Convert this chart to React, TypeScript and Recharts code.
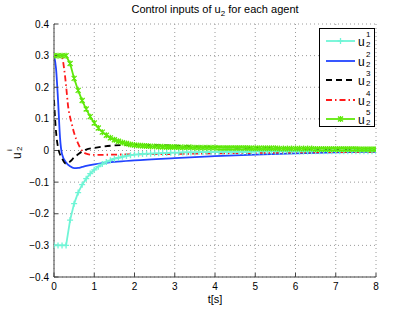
import React from 'react';
import { LineChart, Line, XAxis, YAxis, CartesianGrid } from 'recharts';

// time grid used by the marked series (agents 1 and 5)
const tMarked = [
  0, 0.1, 0.2, 0.3, 0.4, 0.5, 0.6, 0.7, 0.8, 0.9,
  1, 1.1, 1.2, 1.3, 1.4, 1.5, 1.6, 1.7, 1.8, 1.9,
  2, 2.1, 2.2, 2.3, 2.4, 2.5, 2.6, 2.7, 2.8, 2.9,
  3, 3.1, 3.2, 3.3, 3.4, 3.5, 3.6, 3.7, 3.8, 3.9,
  4, 4.1, 4.2, 4.3, 4.4, 4.5, 4.6, 4.7, 4.8, 4.9,
  5, 5.1, 5.2, 5.3, 5.4, 5.5, 5.6, 5.7, 5.8, 5.9,
  6, 6.1, 6.2, 6.3, 6.4, 6.5, 6.6, 6.7, 6.8, 6.9,
  7, 7.1, 7.2, 7.3, 7.4, 7.5, 7.6, 7.7, 7.8, 7.9,
  8,
];

const u1 = [
  -0.3, -0.3, -0.3, -0.3, -0.22, -0.168, -0.133, -0.108, -0.089, -0.073,
  -0.061, -0.051, -0.043, -0.036, -0.031, -0.026, -0.023, -0.02, -0.017, -0.015,
  -0.013, -0.012, -0.011, -0.01, -0.01, -0.009, -0.009, -0.008, -0.008, -0.007,
  -0.007, -0.007, -0.006, -0.006, -0.006, -0.006, -0.005, -0.005, -0.005, -0.005,
  -0.005, -0.005, -0.004, -0.004, -0.004, -0.004, -0.004, -0.004, -0.004, -0.004,
  -0.003, -0.003, -0.003, -0.003, -0.003, -0.003, -0.003, -0.003, -0.003, -0.003,
  -0.003, -0.003, -0.003, -0.003, -0.002, -0.002, -0.002, -0.002, -0.002, -0.002,
  -0.002, -0.002, -0.002, -0.002, -0.002, -0.002, -0.002, -0.002, -0.002, -0.002,
  -0.002,
];

const u5 = [
  0.3, 0.3, 0.3, 0.3, 0.275, 0.228, 0.19, 0.158, 0.131, 0.107,
  0.087, 0.071, 0.058, 0.048, 0.04, 0.034, 0.029, 0.025, 0.022, 0.019,
  0.017, 0.016, 0.015, 0.014, 0.013, 0.013, 0.012, 0.012, 0.011, 0.011,
  0.011, 0.01, 0.01, 0.01, 0.01, 0.009, 0.009, 0.009, 0.009, 0.009,
  0.009, 0.008, 0.008, 0.008, 0.008, 0.008, 0.008, 0.008, 0.008, 0.007,
  0.007, 0.007, 0.007, 0.007, 0.007, 0.007, 0.006, 0.006, 0.006, 0.006,
  0.006, 0.006, 0.006, 0.006, 0.006, 0.005, 0.005, 0.005, 0.005, 0.005,
  0.005, 0.005, 0.005, 0.005, 0.005, 0.005, 0.004, 0.004, 0.004, 0.004,
  0.004,
];

// agents 2, 3, 4 (no markers, finer sampling near the start)
const t2 = [0, 0.05, 0.1, 0.15, 0.2, 0.3, 0.4, 0.5, 0.6, 0.7, 0.8, 1, 1.5, 2, 3, 4, 5, 6, 7, 8];
const u2 = [0.3, 0.26, 0.16, 0.04, -0.012, -0.038, -0.05, -0.056, -0.055, -0.052, -0.049, -0.044, -0.036, -0.031, -0.024, -0.018, -0.013, -0.009, -0.006, -0.004];

const t3 = [0, 0.05, 0.1, 0.2, 0.3, 0.4, 0.5, 0.6, 0.7, 0.8, 1, 1.2, 1.5, 2, 2.5, 3, 3.5, 4, 5, 6, 7, 8];
const u3 = [0.16, 0.06, 0.01, -0.025, -0.042, -0.035, -0.022, -0.012, -0.003, 0.003, 0.008, 0.012, 0.016, 0.018, 0.017, 0.015, 0.013, 0.011, 0.008, 0.006, 0.004, 0.003];

const t4 = [0, 0.1, 0.2, 0.25, 0.3, 0.35, 0.4, 0.45, 0.5, 0.6, 0.7, 0.8, 0.9, 1, 1.5, 2, 3, 4, 5, 6, 7, 8];
const u4 = [0.3, 0.3, 0.295, 0.26, 0.205, 0.14, 0.105, 0.08, 0.055, 0.022, -0.002, -0.01, -0.013, -0.014, -0.013, -0.012, -0.011, -0.009, -0.008, -0.006, -0.005, -0.004];

const xTicks = [0, 1, 2, 3, 4, 5, 6, 7, 8];
const yTicks = [-0.4, -0.3, -0.2, -0.1, 0, 0.1, 0.2, 0.3, 0.4];

const colors = ['#6ff5d6', '#2244ff', '#000000', '#ff1a1a', '#5fe80a'];

const pts = (t: number[], u: number[]) => t.map((x, i) => ({ t: x, u: u[i] }));

const font = '"Liberation Sans", Arial, sans-serif';

const fmtY = (v: number) => (v === 0 ? '0' : v < 0 ? '\u2212' + Math.abs(v) : String(v));

const PlusDot = (props: any) => {
  const { cx, cy, index } = props;
  return (
    <path key={'p' + index} d={`M${cx - 3},${cy}h6M${cx},${cy - 3}v6`} stroke={colors[0]} strokeWidth={1.3} fill="none" />
  );
};

const CrossDot = (props: any) => {
  const { cx, cy, index } = props;
  return (
    <path
      key={'x' + index}
      d={`M${cx - 2.5},${cy - 2.5}l5,5M${cx - 2.5},${cy + 2.5}l5,-5M${cx},${cy - 3}v6`}
      stroke={colors[4]}
      strokeWidth={1.3}
      fill="none"
    />
  );
};

// u with subscript 2 and a superscript, stacked like MATLAB's u_2^k
const U = ({ sup }: { sup: string }) => (
  <span style={{ position: 'absolute', left: 0, top: 0, width: 16, height: 18, lineHeight: 'normal' }}>
    <span style={{ position: 'absolute', left: 0, top: 3, fontSize: 12 }}>u</span>
    <span style={{ position: 'absolute', left: 8, top: -2, fontSize: 8 }}>{sup}</span>
    <span style={{ position: 'absolute', left: 8, top: 8, fontSize: 8 }}>2</span>
  </span>
);

const legendRows = [
  { dash: undefined, mark: 'plus', sup: '1' },
  { dash: undefined, mark: '', sup: '2' },
  { dash: '6 4', mark: '', sup: '3' },
  { dash: '6 3 1.5 3', mark: '', sup: '4' },
  { dash: undefined, mark: 'x', sup: '5' },
];

const App = () => {
  return (
    <div style={{ position: 'absolute', left: 0, top: 0, width: 415, height: 313, background: '#fff', fontFamily: font }}>
      <LineChart width={415} height={313} margin={{ top: 24, right: 39, left: 0, bottom: 0 }}>
        <CartesianGrid stroke="#9a9a9a" strokeDasharray="1 3" />
        <XAxis
          dataKey="t"
          type="number"
          domain={[0, 8]}
          ticks={xTicks}
          height={36}
          stroke="#444"
          tickSize={-4}
          tickMargin={10}
          tick={{ fill: '#000', fontSize: 10, fontFamily: font }}
          allowDataOverflow
        />
        <XAxis xAxisId="top" orientation="top" type="number" domain={[0, 8]} ticks={xTicks} height={0} stroke="#444" tickSize={-4} tick={false} />
        <YAxis
          type="number"
          domain={[-0.4, 0.4]}
          ticks={yTicks}
          width={54}
          stroke="#444"
          tickSize={-4}
          tickMargin={9}
          tickFormatter={fmtY}
          tick={{ fill: '#000', fontSize: 10, fontFamily: font }}
          allowDataOverflow
        />
        <YAxis yAxisId="right" orientation="right" type="number" domain={[-0.4, 0.4]} ticks={yTicks} width={0} stroke="#444" tickSize={-4} tick={false} />
        <Line data={pts(t2, u2)} dataKey="u" type="monotone" stroke={colors[1]} strokeWidth={1.8} dot={false} isAnimationActive={false} />
        <Line data={pts(t4, u4)} dataKey="u" type="monotone" stroke={colors[3]} strokeWidth={1.8} strokeDasharray="6 3 1.5 3" dot={false} isAnimationActive={false} />
        <Line data={pts(t3, u3)} dataKey="u" type="monotone" stroke={colors[2]} strokeWidth={1.8} strokeDasharray="6 4" dot={false} isAnimationActive={false} />
        <Line data={pts(tMarked, u1)} dataKey="u" type="linear" stroke={colors[0]} strokeWidth={1.8} dot={PlusDot} isAnimationActive={false} />
        <Line data={pts(tMarked, u5)} dataKey="u" type="linear" stroke={colors[4]} strokeWidth={1.8} dot={CrossDot} isAnimationActive={false} />
      </LineChart>

      <div style={{ position: 'absolute', left: 0, width: 430, top: 3, textAlign: 'center', fontSize: 11 }}>
        Control inputs of u<sub style={{ fontSize: 8 }}>2</sub> for each agent
      </div>

      <div style={{ position: 'absolute', left: 0, width: 430, top: 293, textAlign: 'center', fontSize: 11 }}>t[s]</div>

      <div
        style={{
          position: 'absolute',
          left: 8,
          top: 142,
          width: 16,
          height: 18,
          transform: 'rotate(-90deg)',
        }}
      >
        <U sup="i" />
      </div>

      <div
        style={{
          position: 'absolute',
          left: 319,
          top: 28,
          width: 54,
          height: 97,
          border: '1px solid #000',
          background: '#fff',
          fontSize: 11,
        }}
      >
        {legendRows.map((r, i) => (
          <div key={i} style={{ position: 'absolute', left: 0, top: 3 + i * 19.5, height: 18, width: 54 }}>
            <svg width={36} height={18} style={{ position: 'absolute', left: 4, top: 0 }}>
              <line x1={2} y1={9} x2={31} y2={9} stroke={colors[i]} strokeWidth={1.8} strokeDasharray={r.dash} />
              {r.mark === 'plus' && <path d="M16.5,6v6M13.5,9h6" stroke={colors[i]} strokeWidth={1.3} />}
              {r.mark === 'x' && <path d="M14,6.5l5,5M14,11.5l5,-5M16.5,6v6" stroke={colors[i]} strokeWidth={1.3} />}
            </svg>
            <div style={{ position: 'absolute', left: 38, top: 0 }}>
              <U sup={r.sup} />
            </div>
          </div>
        ))}
      </div>
    </div>
  );
};

export default App;
